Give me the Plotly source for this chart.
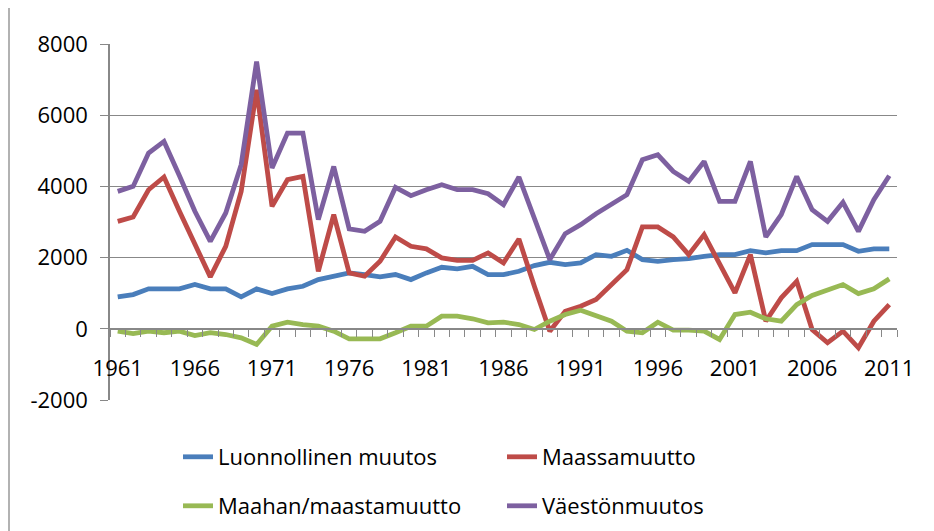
import plotly.graph_objects as go

years = list(range(1961, 2012))

luonnollinen = [897, 962, 1122, 1122, 1122, 1243, 1122, 1122, 897, 1122,
                990, 1122, 1195, 1383, 1476, 1571, 1523, 1459, 1523, 1383,
                1571, 1728, 1683, 1756, 1523, 1523, 1616, 1776, 1868, 1804,
                1851, 2084, 2037, 2205, 1944, 1896, 1944, 1970, 2037, 2084,
                2084, 2196, 2132, 2196, 2196, 2365, 2365, 2365, 2177, 2244,
                2244]

maassamuutto = [3018, 3141, 3907, 4264, 3300, 2400, 1459, 2317, 3860, 6712,
                3440, 4188, 4281, 1616, 3206, 1571, 1476, 1896, 2580, 2317,
                2244, 1991, 1924, 1924, 2132, 1851, 2524, 1195, -67, 494,
                634, 822, 1262, 1663, 2861, 2861, 2580, 2084, 2645, 1851,
                1010, 2084, 213, 870, 1335, -20, -393, -67, -533, 213,
                681]

maahan = [-67, -132, -67, -110, -67, -188, -110, -160, -253, -440,
          73, 185, 120, 73, -67, -281, -281, -281, -113, 73,
          73, 354, 354, 281, 168, 185, 120, -20, 213, 401,
          522, 354, 213, -67, -113, 185, -39, -39, -67, -300,
          401, 466, 281, 213, 681, 934, 1083, 1243, 990, 1122,
          1402]

vaesto = [3860, 4000, 4937, 5263, 4300, 3300, 2457, 3254, 4610, 7507,
          4516, 5498, 5498, 3066, 4560, 2805, 2738, 3018, 3972, 3739,
          3907, 4048, 3907, 3907, 3795, 3487, 4264, 3066, 1944, 2673,
          2926, 3234, 3487, 3767, 4749, 4889, 4421, 4141, 4702, 3580,
          3580, 4702, 2580, 3206, 4281, 3346, 3018, 3552, 2738, 3627,
          4300]

series_names = ["Luonnollinen muutos", "Maassamuutto",
                "Maahan/maastamuutto", "Väestönmuutos"]
series_values = [luonnollinen, maassamuutto, maahan, vaesto]
colors = ["#4A7EBB", "#BE4B48", "#98B954", "#7D60A0"]
legends = ["legend", "legend", "legend2", "legend2"]

x_tickvals = [1961, 1966, 1971, 1976, 1981, 1986, 1991, 1996, 2001, 2006, 2011]
y_tickvals = [-2000, 0, 2000, 4000, 6000, 8000]
y_ticktext = ["-2000", "0", "2000", "4000", "6000", "8000"]

FONT = "Open Sans, Liberation Sans, sans-serif"
GRID = "#888888"

fig = go.Figure()
for name, vals, col, lg in zip(series_names, series_values, colors, legends):
    fig.add_trace(go.Scatter(x=years, y=vals, mode="lines", name=name,
                             line=dict(color=col, width=4.8), legend=lg))

W, H = 934, 531
ml, mt = 102, 36
plot_w, plot_h = 787, 356
mr = W - ml - plot_w
mb = H - mt - plot_h

ymin, ymax = -2000, 8000
zero_pos = (0 - ymin) / (ymax - ymin)


def py(fig_y):
    return (H - mb - fig_y) / plot_h


def px(fig_x):
    return (fig_x - ml) / plot_w


fig.update_layout(
    width=W, height=H,
    margin=dict(l=ml, r=mr, t=mt, b=mb, autoexpand=False),
    paper_bgcolor="white", plot_bgcolor="white",
    font=dict(family=FONT, size=22, color="black"),
    showlegend=True,
    legend=dict(orientation="h", x=px(170), xanchor="left",
                y=py(428), yanchor="top",
                entrywidth=279, entrywidthmode="pixels",
                font=dict(size=22), bgcolor="rgba(0,0,0,0)"),
    legend2=dict(orientation="h", x=px(170), xanchor="left",
                 y=py(477), yanchor="top",
                 entrywidth=279, entrywidthmode="pixels",
                 font=dict(size=22), bgcolor="rgba(0,0,0,0)"),
    xaxis=dict(range=[1960.5, 2011.5], tickvals=x_tickvals,
               anchor="free", position=zero_pos,
               showline=True, linecolor=GRID, linewidth=1.5,
               showgrid=False, zeroline=False,
               ticks="", ticklabelstandoff=20,
               tickfont=dict(size=22),
               minor=dict(ticks="outside", ticklen=7, tickcolor=GRID,
                          tick0=1960.5, dtick=1, showgrid=False)),
    yaxis=dict(range=[ymin, ymax], tickvals=y_tickvals, ticktext=y_ticktext,
               showline=True, linecolor=GRID, linewidth=1.5,
               showgrid=True, gridcolor=GRID, gridwidth=1.2,
               zeroline=False, ticks="outside", ticklen=8, tickcolor=GRID,
               ticklabelstandoff=8, tickfont=dict(size=22)),
)

# chart-area border (left edge visible in the reference)
fig.add_shape(type="line", xref="paper", yref="paper",
              x0=px(1), x1=px(1), y0=py(H), y1=py(0),
              line=dict(color="#999999", width=1.5))

fig.write_html("out.html")
